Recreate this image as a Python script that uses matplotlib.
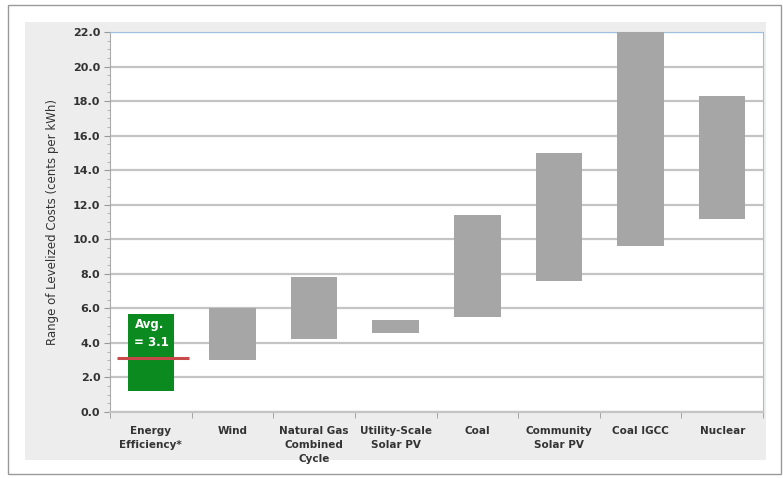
import numpy as np
import matplotlib.pyplot as plt
from matplotlib.patches import Rectangle

# technologies and their range of levelized costs (cents per kWh)
categories = ["Energy\nEfficiency*", "Wind", "Natural Gas\nCombined\nCycle",
              "Utility-Scale\nSolar PV", "Coal", "Community\nSolar PV",
              "Coal IGCC", "Nuclear"]
low = [1.2, 3.0, 4.2, 4.6, 5.5, 7.6, 9.6, 11.2]
high = [5.7, 6.0, 7.8, 5.3, 11.4, 15.0, 22.0, 18.3]
ee_avg = 3.1

fig = plt.figure(figsize=(7.83, 4.78), dpi=100)

# outer frame and gray chart panel
fig.patches.append(Rectangle((0.010, 0.008), 0.987, 0.982, transform=fig.transFigure,
                             facecolor="white", edgecolor="#9a9a9a", lw=1.0, zorder=-2))
fig.patches.append(Rectangle((0.032, 0.038), 0.946, 0.915, transform=fig.transFigure,
                             facecolor="#ededed", edgecolor="none", zorder=-1))

ax = fig.add_axes([0.1405, 0.138, 0.834, 0.795])
x = np.arange(len(categories))
colors = ["#0a8a1f"] + ["#a6a6a6"] * (len(categories) - 1)
ax.bar(x, np.array(high) - np.array(low), bottom=low, width=0.57,
       color=colors, zorder=3)

# average line for energy efficiency
ax.hlines(ee_avg, -0.42, 0.47, color="#c8494a", lw=2.2, zorder=4)
ax.text(-0.2, 5.45, "Avg.\n= 3.1", color="white", fontsize=8.5, fontweight="bold",
        va="top", ha="left", linespacing=1.5, zorder=5)

ax.set_xlim(-0.5, len(categories) - 0.5)
ax.set_ylim(0, 22)
ax.set_yticks(np.arange(0, 22.1, 2))
ax.set_yticklabels([f"{v:.1f}" for v in np.arange(0, 22.1, 2)],
                   fontsize=8, fontweight="bold", color="#333333")
ax.set_yticks(np.arange(0, 22.1, 0.5), minor=True)
ax.tick_params(axis="y", which="major", length=4, color="#999999", pad=3)
ax.tick_params(axis="y", which="minor", length=2, color="#aaaaaa")
ax.set_xticks(x)
ax.set_xticklabels(categories, fontsize=7.5, fontweight="bold", color="#333333",
                   linespacing=1.5)
ax.tick_params(axis="x", which="major", length=0, pad=10)
ax.set_xticks(np.arange(-0.5, len(categories), 1), minor=True)
ax.tick_params(axis="x", which="minor", length=4, color="#999999")

ax.grid(axis="y", color="#c4c4c4", lw=1.6, zorder=1)
ax.set_axisbelow(True)
ax.spines["left"].set_color("#aaaaaa")
ax.spines["left"].set_linestyle((0, (2, 1)))
ax.spines["bottom"].set_color("#c4c4c4")
ax.spines["bottom"].set_linewidth(1.6)
ax.spines["top"].set_color("#9dbfe0")
ax.spines["right"].set_color("#9dbfe0")

ax.set_ylabel("Range of Levelized Costs (cents per kWh)", fontsize=8.5, color="#333333",
              labelpad=10)

fig.savefig("out.png", dpi=100)
